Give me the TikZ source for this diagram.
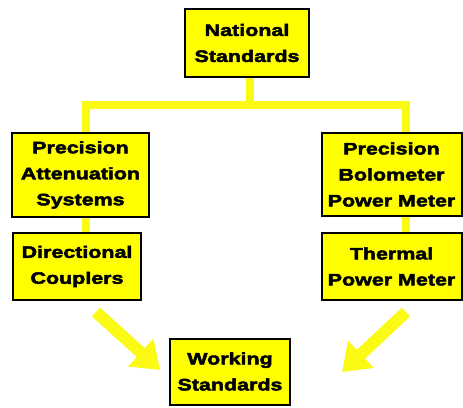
\documentclass[tikz,border=0pt]{standalone}
\usepackage{fontspec}
\setmainfont{Liberation Sans}[FakeStretch=1.3,FakeBold=3]
\usetikzlibrary{arrows.meta,backgrounds}
\definecolor{boxyellow}{RGB}{255,255,0}
\definecolor{lineyellow}{RGB}{250,250,20}
\tikzset{
  x=1pt,y=1pt,
  stdbox/.style={draw=black,line width=2pt,fill=boxyellow,inner sep=0pt,align=center,
    font=\fontsize{16.5}{26}\selectfont\bfseries},
  conn/.style={draw=lineyellow,line width=8pt},
  bigarrow/.style={draw=lineyellow,line width=12pt,-{Triangle[length=26pt,width=36pt]}}
}
\begin{document}
\begin{tikzpicture}
\useasboundingbox (0,0) rectangle (463,-407);
\node[stdbox,minimum width=124,minimum height=68] (nat) at (247,-43) {National\\Standards};
\node[stdbox,minimum width=137,minimum height=84] (pas) at (80.5,-175) {Precision\\Attenuation\\Systems};
\node[stdbox,minimum width=128,minimum height=67] (dc) at (77,-266.5) {Directional\\Couplers};
\node[stdbox,minimum width=140,minimum height=83] (pbpm) at (391.5,-174.5) {Precision\\Bolometer\\Power Meter};
\node[stdbox,minimum width=140,minimum height=67] (tpm) at (391.5,-266.5) {Thermal\\Power Meter};
\node[stdbox,minimum width=120,minimum height=66] (ws) at (230,-371.5) {Working\\Standards};
\coordinate (hub) at (250,-105);
\coordinate (la) at (96,-312);
\coordinate (lb) at (160,-370);
\coordinate (ra) at (406,-312);
\coordinate (rb) at (342,-372);
\begin{scope}[on background layer]
\draw[conn] (hub |- nat.south) -- (hub);
\draw[conn] (hub) -| ([xshift=5pt]pas.north);
\draw[conn] (hub) -| ([xshift=14pt]pbpm.north);
\draw[conn] ([xshift=5pt]pas.south) -- ([xshift=5pt]pas.south |- dc.north);
\draw[conn] ([xshift=14pt]pbpm.south) -- ([xshift=14pt]pbpm.south |- tpm.north);
\end{scope}
\draw[bigarrow] (la) -- (lb);
\draw[bigarrow] (ra) -- (rb);
\end{tikzpicture}
\end{document}
